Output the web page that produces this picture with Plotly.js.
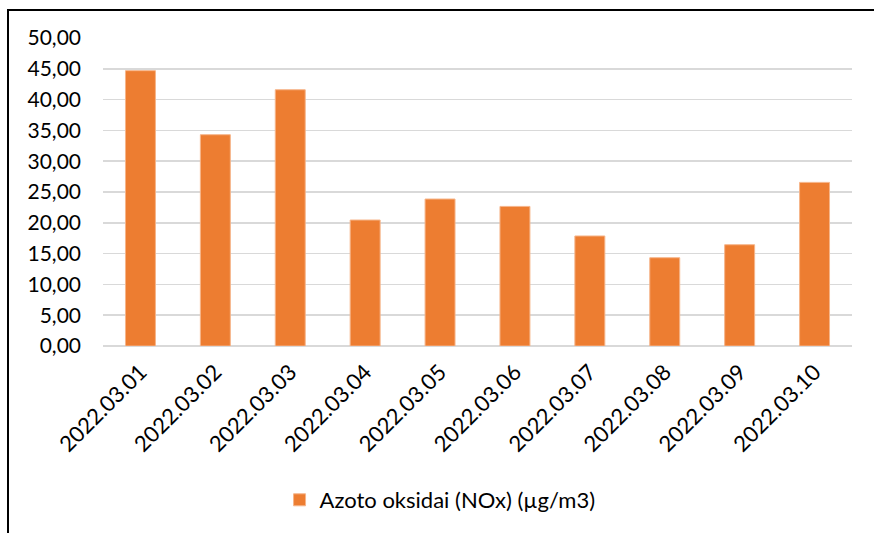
<!DOCTYPE html>
<html>
<head>
<meta charset="utf-8">
<script src="https://cdn.plot.ly/plotly-3.0.1.min.js"></script>
<style>
  html, body { margin: 0; padding: 0; background: #fff; }
  #chart { width: 874px; height: 533px; }
  #frame { position: absolute; left: 7px; top: 9px; width: 900px; height: 600px;
           border-left: 2px solid #000; border-top: 2px solid #000; pointer-events: none; }
</style>
</head>
<body>
<div id="chart"></div>
<div id="frame"></div>
<script>
const categories = ["2022.03.01","2022.03.02","2022.03.03","2022.03.04","2022.03.05",
                    "2022.03.06","2022.03.07","2022.03.08","2022.03.09","2022.03.10"];
const noxValues = [44.7, 34.3, 41.6, 20.45, 23.86, 22.66, 17.86, 14.33, 16.44, 26.56];
const seriesName = "Azoto oksidai (NOx) (µg/m3)";
const yTicks = [0,5,10,15,20,25,30,35,40,45,50];

const trace = {
  type: "bar",
  x: categories,
  y: noxValues,
  name: seriesName,
  marker: { color: "#ED7D31", line: { color: "#F6B58A", width: 1 } },
  width: 0.4,
  hoverinfo: "x+y"
};

const layout = {
  width: 874, height: 533,
  margin: { l: 103, r: 22, t: 38, b: 187 },
  paper_bgcolor: "#fff", plot_bgcolor: "#fff",
  separators: ",.",
  font: { family: "Lato, 'Open Sans', sans-serif", color: "#000", size: 21 },
  showlegend: true,
  legend: { orientation: "h", x: 0.45, xanchor: "center", y: -0.5, yanchor: "middle",
            font: { size: 22 }, itemwidth: 30 },
  xaxis: {
    type: "category",
    tickangle: -45,
    showgrid: false, showline: false, ticks: "",
    ticklabelstandoff: 8,
    tickfont: { size: 22 }
  },
  yaxis: {
    range: [0, 50],
    tickvals: yTicks,
    tickformat: ".2f",
    showgrid: true, gridcolor: "#d9d9d9", gridwidth: 1.5,
    zeroline: true, zerolinecolor: "#d9d9d9", zerolinewidth: 1.5,
    showline: false, ticks: "",
    ticklabelstandoff: 21,
    tickfont: { size: 21 }
  },
  bargap: 0.6
};

Plotly.newPlot("chart", [trace], layout, { displayModeBar: false, staticPlot: true });
</script>
</body>
</html>
